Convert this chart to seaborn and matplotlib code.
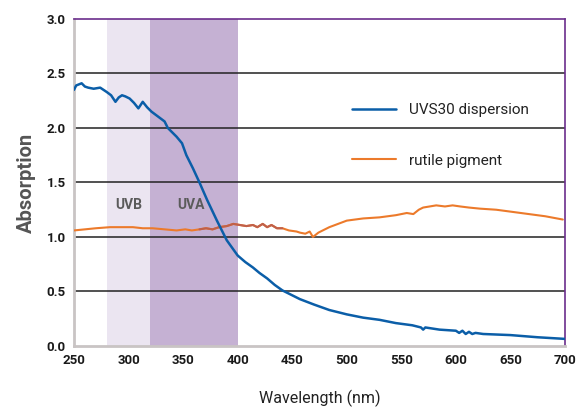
import numpy as np
import pandas as pd
import matplotlib
matplotlib.use('Agg')
import matplotlib.pyplot as plt
import seaborn as sns

# UVS30 dispersion (blue)
uvs_nm = [250, 252, 257, 260, 263, 268, 274, 277, 280, 284, 288, 291, 294, 297, 301, 305,
          309, 313, 317, 321, 325, 329, 333, 336, 340, 344, 349, 353, 359, 365, 372,
          381, 390, 400, 407, 414, 420, 427, 434, 441, 449, 457, 470, 484, 500, 515,
          530, 545, 560, 568, 570, 572, 585, 600, 603, 606, 609, 612, 615, 618, 625,
          650, 675, 700]
uvs_abs = [2.35, 2.39, 2.41, 2.38, 2.37, 2.36, 2.37, 2.35, 2.33, 2.30, 2.24, 2.28, 2.30,
           2.29, 2.27, 2.23, 2.18, 2.24, 2.19, 2.15, 2.12, 2.09, 2.06, 2.00, 1.96, 1.92,
           1.86, 1.75, 1.63, 1.50, 1.34, 1.15, 0.97, 0.83, 0.77, 0.72, 0.67, 0.62, 0.56,
           0.51, 0.47, 0.43, 0.38, 0.33, 0.29, 0.26, 0.24, 0.21, 0.19, 0.17, 0.15, 0.17,
           0.15, 0.14, 0.12, 0.14, 0.11, 0.13, 0.11, 0.12, 0.11, 0.10, 0.08, 0.065]

# rutile pigment (orange)
rut_nm = [250, 260, 270, 283, 295, 304, 313, 322, 333, 344, 352, 358, 365, 371, 377,
          383, 390, 396, 402, 408, 414, 418, 423, 427, 431, 436, 441, 447, 454, 457,
          462, 466, 469, 474, 484, 492, 500, 515, 530, 545, 555, 561, 566, 570, 576,
          582, 590, 597, 604, 612, 622, 637, 652, 667, 682, 698]
rut_abs = [1.06, 1.07, 1.08, 1.09, 1.09, 1.09, 1.08, 1.08, 1.07, 1.06, 1.07, 1.06, 1.07,
           1.08, 1.07, 1.09, 1.10, 1.12, 1.11, 1.10, 1.11, 1.09, 1.12, 1.09, 1.11, 1.08,
           1.08, 1.06, 1.05, 1.04, 1.03, 1.05, 1.00, 1.04, 1.09, 1.12, 1.15, 1.17, 1.18,
           1.20, 1.22, 1.21, 1.25, 1.27, 1.28, 1.29, 1.28, 1.29, 1.28, 1.27, 1.26, 1.25,
           1.23, 1.21, 1.19, 1.16]

uv_bands = {'UVB': (280, 320), 'UVA': (320, 400)}
band_label_x = {'UVB': 300, 'UVA': 357}
band_colors = {'UVB': '#ebe5f1', 'UVA': '#c5b1d3'}
y_ticks = [0.0, 0.5, 1.0, 1.5, 2.0, 2.5, 3.0]
x_ticks = [250, 300, 350, 400, 450, 500, 550, 600, 650, 700]

uvs = pd.DataFrame({'nm': uvs_nm, 'abs': uvs_abs})
rut = pd.DataFrame({'nm': rut_nm, 'abs': rut_abs})

sns.set_style('white')
plt.rcParams['font.family'] = ['Roboto', 'DejaVu Sans']

fig = plt.figure(figsize=(5.79, 4.08), dpi=100)
ax = fig.add_axes([0.1278, 0.152, 0.848, 0.8015])

for name, (lo, hi) in uv_bands.items():
    ax.axvspan(lo, hi, color=band_colors[name], lw=0, zorder=0)
    ax.text(band_label_x[name], 1.29, name, ha='center', va='center', fontsize=10,
            fontweight='bold', color='#5b5b5b', zorder=1)

for y in y_ticks[1:-1]:
    ax.axhline(y, color='#222222', lw=1.1, zorder=1)

sns.lineplot(data=rut, x='nm', y='abs', ax=ax, color='#ec7a2b', lw=1.5,
             label='rutile pigment', zorder=3)
# brownish look where the orange trace crosses the UVA band
seg = rut[(rut['nm'] >= 365) & (rut['nm'] <= 441)]
sns.lineplot(data=seg, x='nm', y='abs', ax=ax, color='#c0604a', lw=1.5,
             legend=False, zorder=3)
sns.lineplot(data=uvs, x='nm', y='abs', ax=ax, color='#0b5ea8', lw=1.8,
             label='UVS30 dispersion', zorder=4)

ax.set_xlim(250, 700)
ax.set_ylim(0, 3.0)
ax.set_xticks(x_ticks)
ax.set_yticks(y_ticks)
ax.set_yticklabels([f'{v:.1f}' for v in y_ticks])
ax.tick_params(length=0, labelsize=9.5, colors='#1a1a1a', pad=6)
for lab in ax.get_xticklabels() + ax.get_yticklabels():
    lab.set_fontweight('bold')

ax.set_xlabel('Wavelength (nm)', fontsize=11.5, color='#222222', labelpad=16)
ax.set_ylabel('Absorption', fontsize=14.5, fontweight='bold', color='#555555',
              labelpad=8)

for side in ['left', 'bottom']:
    ax.spines[side].set_color('#c9c4c4')
    ax.spines[side].set_linewidth(2)
for side in ['top', 'right']:
    ax.spines[side].set_color('#6b2e8c')
    ax.spines[side].set_linewidth(1.2)

handles, labels = ax.get_legend_handles_labels()
order = [labels.index('UVS30 dispersion'), labels.index('rutile pigment')]
ax.legend([handles[i] for i in order], [labels[i] for i in order],
          loc='upper left', bbox_to_anchor=(0.538, 0.785), frameon=False,
          fontsize=11, handlelength=2.9, handletextpad=0.85, labelspacing=2.4,
          labelcolor='#222222')

fig.savefig('out.png', dpi=100)
